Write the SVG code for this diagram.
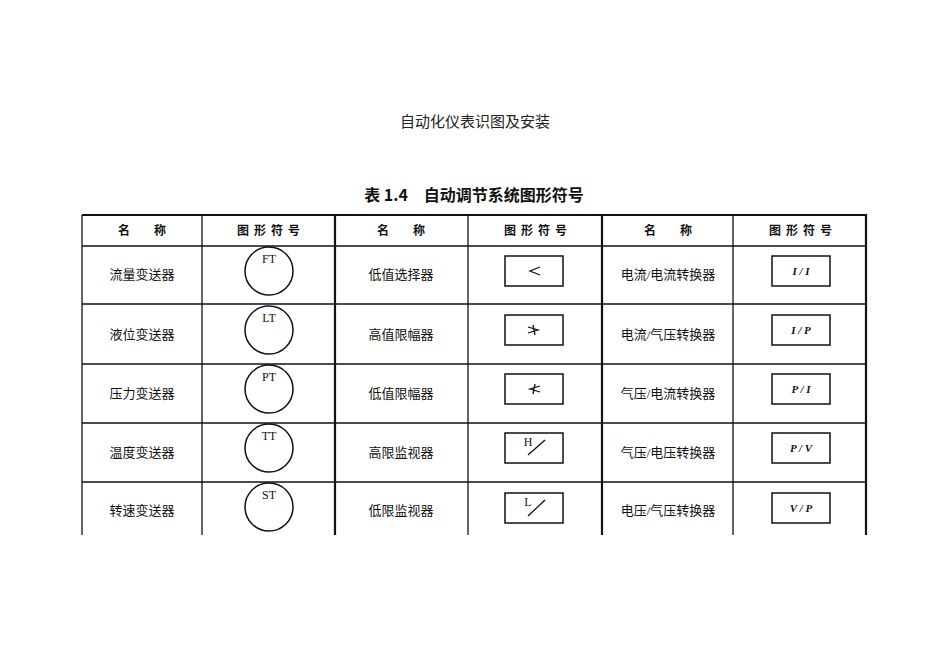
<svg xmlns="http://www.w3.org/2000/svg" width="950" height="672" viewBox="0 0 950 672">
<style>
.t{font-family:"Liberation Serif","Noto Sans CJK SC",serif;font-size:13px;text-anchor:middle;fill:#111}
.h{font-family:"Noto Sans CJK SC",sans-serif;font-size:12px;text-anchor:middle;fill:#111;font-weight:bold}
.g{letter-spacing:5px}
.l{stroke:#111;stroke-width:1.3;fill:none}
.b{stroke:#111;stroke-width:2.2;fill:none}
.c{stroke:#111;stroke-width:1.5;fill:none}
.s{font-family:"Liberation Serif",serif;font-size:12px;text-anchor:middle;fill:#111}
.si{font-family:"Liberation Serif",serif;font-size:11px;text-anchor:middle;fill:#111;font-style:italic;font-weight:bold}
</style>
<rect width="950" height="672" fill="#fff"/>
<text x="475" y="127" font-family="Noto Sans CJK SC,sans-serif" font-size="15" text-anchor="middle" fill="#222">自动化仪表识图及安装</text>
<text x="474" y="201" font-family="Noto Sans CJK SC,sans-serif" font-size="16" font-weight="bold" text-anchor="middle" fill="#111">表 1.4　自动调节系统图形符号</text>
<g id="grid">
<line class="b" x1="82" y1="215" x2="867" y2="215"/>
<line class="l" x1="82" y1="246" x2="867" y2="246"/>
<line class="l" x1="82" y1="304" x2="867" y2="304"/>
<line class="l" x1="82" y1="364" x2="867" y2="364"/>
<line class="l" x1="82" y1="423" x2="867" y2="423"/>
<line class="l" x1="82" y1="482" x2="867" y2="482"/>
<line class="l" x1="82" y1="215" x2="82" y2="535"/>
<line class="l" x1="202" y1="215" x2="202" y2="535"/>
<line class="b" x1="335" y1="215" x2="335" y2="535"/>
<line class="l" x1="468" y1="215" x2="468" y2="535"/>
<line class="b" x1="602" y1="215" x2="602" y2="535"/>
<line class="l" x1="733" y1="215" x2="733" y2="535"/>
<line class="b" x1="866" y1="215" x2="866" y2="535"/>
</g>
<g id="header">
<text class="h" x="142" y="235">名　　称</text>
<text class="h g" x="271" y="235">图形符号</text>
<text class="h" x="401" y="235">名　　称</text>
<text class="h g" x="538" y="235">图形符号</text>
<text class="h" x="668" y="235">名　　称</text>
<text class="h g" x="803" y="235">图形符号</text>
</g>
<g id="col1">
<text class="t" x="142" y="279">流量变送器</text>
<text class="t" x="142" y="339">液位变送器</text>
<text class="t" x="142" y="398">压力变送器</text>
<text class="t" x="142" y="457">温度变送器</text>
<text class="t" x="142" y="515">转速变送器</text>
<circle class="c" cx="269" cy="271" r="24"/><text class="s" x="269" y="263">FT</text>
<circle class="c" cx="269" cy="330" r="24"/><text class="s" x="269" y="322">LT</text>
<circle class="c" cx="269" cy="389" r="24"/><text class="s" x="269" y="381">PT</text>
<circle class="c" cx="269" cy="448" r="24"/><text class="s" x="269" y="440">TT</text>
<circle class="c" cx="269" cy="507" r="24"/><text class="s" x="269" y="499">ST</text>
</g>
<g id="col2">
<text class="t" x="401" y="279">低值选择器</text>
<text class="t" x="401" y="339">高值限幅器</text>
<text class="t" x="401" y="398">低值限幅器</text>
<text class="t" x="401" y="457">高限监视器</text>
<text class="t" x="401" y="515">低限监视器</text>
<rect class="c" x="505" y="256" width="58" height="30"/><path class="l" d="M540 267 L530 271 L540 275"/>
<rect class="c" x="505" y="315" width="58" height="30"/><path class="l" d="M528 327 L538 330 L528 333 M533 325 L535 335"/>
<rect class="c" x="505" y="374" width="58" height="30"/><path class="l" d="M540 386 L530 389 L540 392 M535 384 L533 394"/>
<rect class="c" x="505" y="433" width="58" height="30"/><text class="s" x="528" y="446">H</text><line class="l" x1="528" y1="455" x2="545" y2="440"/>
<rect class="c" x="505" y="493" width="58" height="30"/><text class="s" x="528" y="506">L</text><line class="l" x1="528" y1="516" x2="545" y2="500"/>
</g>
<g id="col3">
<text class="t" x="668" y="279">电流/电流转换器</text>
<text class="t" x="668" y="339">电流/气压转换器</text>
<text class="t" x="668" y="398">气压/电流转换器</text>
<text class="t" x="668" y="457">气压/电压转换器</text>
<text class="t" x="668" y="515">电压/气压转换器</text>
<rect class="c" x="772" y="256" width="58" height="30"/><text class="si" x="801" y="275">I / I</text>
<rect class="c" x="772" y="315" width="58" height="30"/><text class="si" x="801" y="334">I / P</text>
<rect class="c" x="772" y="374" width="58" height="30"/><text class="si" x="801" y="393">P / I</text>
<rect class="c" x="772" y="433" width="58" height="30"/><text class="si" x="801" y="452">P / V</text>
<rect class="c" x="772" y="493" width="58" height="30"/><text class="si" x="801" y="512">V / P</text>
</g>
</svg>
